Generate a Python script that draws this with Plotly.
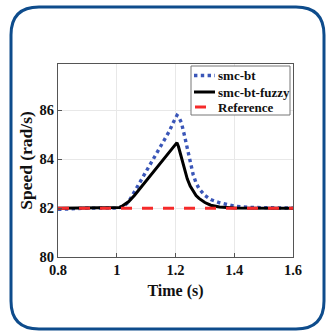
import plotly.graph_objects as go

# ---- data ----
time_bt = [0.8, 0.85, 0.9, 1.0, 1.01, 1.02, 1.04, 1.06, 1.08, 1.10, 1.12, 1.14, 1.16, 1.18, 1.19, 1.20,
           1.205, 1.21, 1.22, 1.23, 1.24, 1.25, 1.26, 1.27, 1.28, 1.30, 1.32, 1.35, 1.40, 1.45, 1.50, 1.60]
speed_bt = [81.95, 81.98, 82.0, 82.0, 82.01, 82.05, 82.25, 82.66, 83.08, 83.50, 83.92, 84.32, 84.74, 85.17, 85.45, 85.70,
            85.80, 85.75, 85.50, 85.00, 84.42, 83.88, 83.38, 83.03, 82.80, 82.52, 82.35, 82.22, 82.08, 82.03, 82.01, 82.0]

time_fz = [0.8, 0.9, 1.0, 1.01, 1.02, 1.04, 1.06, 1.08, 1.10, 1.12, 1.14, 1.16, 1.18, 1.20,
           1.205, 1.21, 1.22, 1.23, 1.24, 1.25, 1.26, 1.27, 1.28, 1.30, 1.32, 1.35, 1.40, 1.45, 1.50, 1.60]
speed_fz = [82.0, 82.0, 82.0, 82.03, 82.10, 82.26, 82.52, 82.82, 83.12, 83.43, 83.73, 84.04, 84.33, 84.62,
            84.68, 84.52, 84.08, 83.62, 83.20, 82.90, 82.68, 82.52, 82.40, 82.23, 82.12, 82.05, 82.01, 82.0, 82.0, 82.0]

time_ref = [0.8, 1.6]
speed_ref = [82.0, 82.0]

x_ticks = [0.8, 1.0, 1.2, 1.4, 1.6]
x_tick_labels = ["0.8", "1", "1.2", "1.4", "1.6"]
y_ticks = [80, 82, 84, 86]
y_tick_labels = ["80", "82", "84", "86"]

legend_names = ["smc-bt", "smc-bt-fuzzy", "Reference"]

FONT = "Liberation Serif, Times New Roman, serif"
TXT = "#111111"
BLUE, BLACK, RED = "#3a56b8", "#000000", "#f52a2a"
styles = [dict(color=BLUE, width=3.4, dash="dot"),
          dict(color=BLACK, width=3),
          dict(color=RED, width=3, dash="11px,10px")]

fig = go.Figure()
fig.add_trace(go.Scatter(x=time_bt, y=speed_bt, mode="lines", name=legend_names[0], line=styles[0]))
fig.add_trace(go.Scatter(x=time_fz, y=speed_fz, mode="lines", name=legend_names[1], line=styles[1]))
fig.add_trace(go.Scatter(x=time_ref, y=speed_ref, mode="lines", name=legend_names[2], line=styles[2]))

# plot area in pixels
W, H = 326, 331
L, R, T, B = 58, 293, 64, 257


def px(xp):
    return (xp - L) / (R - L)


def py(yp):
    return (B - yp) / (B - T)


shapes = []
# rounded frame around the figure
bl, bt, br, bb, rad = 11, 7, 324, 329, 28
path = (f"M{px(bl + rad)},{py(bt)} L{px(br - rad)},{py(bt)} Q{px(br)},{py(bt)} {px(br)},{py(bt + rad)} "
        f"L{px(br)},{py(bb - rad)} Q{px(br)},{py(bb)} {px(br - rad)},{py(bb)} "
        f"L{px(bl + rad)},{py(bb)} Q{px(bl)},{py(bb)} {px(bl)},{py(bb - rad)} "
        f"L{px(bl)},{py(bt + rad)} Q{px(bl)},{py(bt)} {px(bl + rad)},{py(bt)} Z")
shapes.append(dict(type="path", xref="paper", yref="paper", path=path,
                   line=dict(color="#0e4c8c", width=3), fillcolor="rgba(0,0,0,0)", layer="below"))

# legend box (MATLAB-like compact legend)
lg_l, lg_r, lg_t, lg_b = 191, 290, 66, 115
shapes.append(dict(type="rect", xref="paper", yref="paper", x0=px(lg_l), x1=px(lg_r), y0=py(lg_b), y1=py(lg_t),
                   line=dict(color="#777", width=1), fillcolor="white", layer="above"))
row_y = [75.5, 92, 107]
sample = [(194, 215), (194, 215), (195, 206)]
annotations = []
for name, st, yy, (s0, s1) in zip(legend_names, styles, row_y, sample):
    ln = dict(color=st["color"], width=st["width"])
    if st.get("dash") == "dot":
        ln["dash"] = "dot"
    shapes.append(dict(type="line", xref="paper", yref="paper", x0=px(s0), x1=px(s1), y0=py(yy), y1=py(yy),
                       line=ln, layer="above"))
    annotations.append(dict(text=name, xref="paper", yref="paper", x=px(216), y=py(yy),
                            xanchor="left", yanchor="middle", showarrow=False,
                            font=dict(family=FONT, size=13, color=TXT, weight="bold")))

fig.update_layout(
    width=W, height=H,
    margin=dict(l=L, r=W - R, t=T, b=H - B),
    paper_bgcolor="white", plot_bgcolor="white",
    font=dict(family=FONT, color=TXT, size=14),
    shapes=shapes, annotations=annotations,
    showlegend=False,
)
fig.update_xaxes(range=[0.8, 1.6], tickvals=x_ticks, ticktext=x_tick_labels,
                 showgrid=True, gridcolor="#e8e8e8", gridwidth=1,
                 showline=True, linecolor="#555", linewidth=1, mirror=True,
                 ticks="inside", ticklen=4, tickcolor="#555", zeroline=False,
                 tickfont=dict(family=FONT, size=14.5, color=TXT, weight="bold"),
                 title=dict(text="Time (s)", font=dict(family=FONT, size=16, color=TXT, weight="bold"),
                            standoff=7))
fig.update_yaxes(range=[80, 87.9], tickvals=y_ticks, ticktext=y_tick_labels,
                 showgrid=True, gridcolor="#e8e8e8", gridwidth=1,
                 showline=True, linecolor="#555", linewidth=1, mirror=True,
                 ticks="inside", ticklen=4, tickcolor="#555", zeroline=False,
                 tickfont=dict(family=FONT, size=14.5, color=TXT, weight="bold"),
                 title=dict(text="Speed (rad/s)", font=dict(family=FONT, size=17.5, color=TXT, weight="bold"),
                            standoff=2))

fig.write_html("out.html", config={"displayModeBar": False},
               post_script="document.body.style.margin='0';document.body.style.overflow='hidden';")
